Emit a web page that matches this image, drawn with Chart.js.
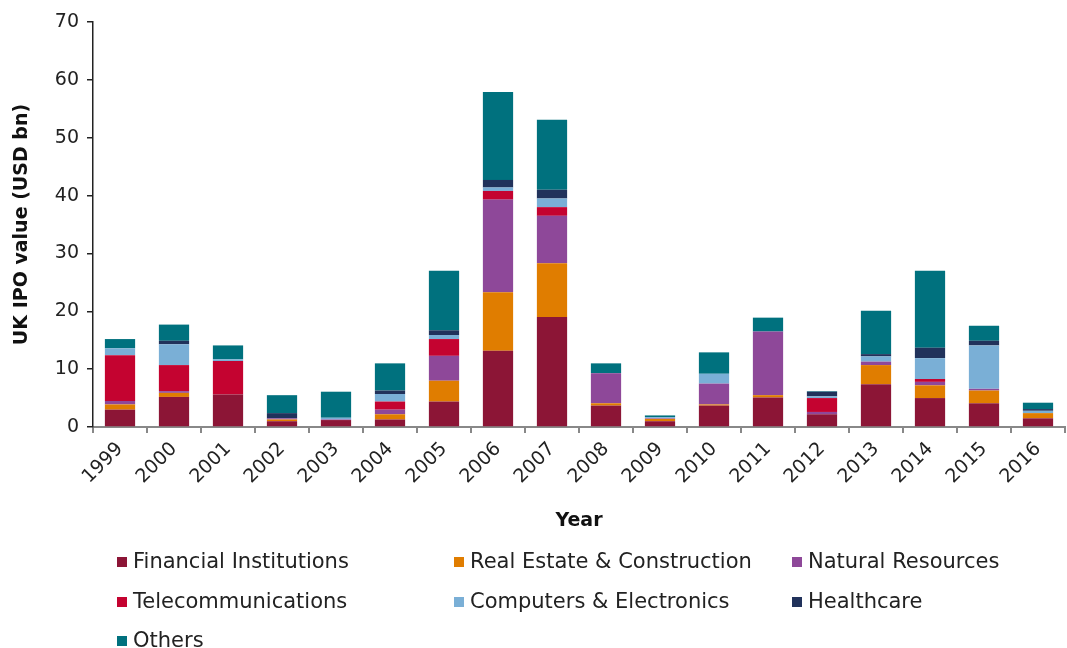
<!DOCTYPE html>
<html>
<head>
<meta charset="utf-8">
<script src="https://cdn.jsdelivr.net/npm/chart.js@4"></script>
<style>
  body { margin: 0; background: #fff; font-family: "DejaVu Sans", Verdana, sans-serif; }
  #wrap { position: relative; width: 1067px; height: 648px; }
  #legend { position: absolute; left: 0; top: 0; width: 1067px; height: 648px; pointer-events: none; }
  .item { position: absolute; font-size: 21px; color: #222; white-space: nowrap; line-height: 24px; }
  .item span.box { display: inline-block; width: 10px; height: 10px; margin-right: 6px; vertical-align: 1px; }
</style>
</head>
<body>
<div id="wrap">
  <canvas id="myChart" width="1067" height="648"></canvas>
  <div id="legend"></div>
</div>
<script>
const years = ["1999", "2000", "2001", "2002", "2003", "2004", "2005", "2006", "2007",
  "2008", "2009", "2010", "2011", "2012", "2013", "2014", "2015", "2016"];

// values in USD bn
const financial   = [3.0, 5.2, 5.6, 1.0, 1.2, 1.3, 4.4, 13.2, 19.0, 3.7, 1.0, 3.7, 5.1, 2.2, 7.4, 5.0, 4.1, 1.5];
const realEstate  = [0.9, 0.7, 0.0, 0.3, 0.0, 0.9, 3.6, 10.1, 9.3, 0.4, 0.4, 0.2, 0.4, 0.0, 3.3, 2.2, 2.2, 0.9];
const natural     = [0.6, 0.3, 0.0, 0.2, 0.1, 0.8, 4.3, 16.0, 8.2, 5.2, 0.1, 3.6, 11.0, 0.4, 0.6, 0.6, 0.3, 0.0];
const telecom     = [7.9, 4.5, 5.8, 0.0, 0.0, 1.4, 2.9, 1.5, 1.5, 0.0, 0.0, 0.0, 0.0, 2.4, 0.0, 0.5, 0.0, 0.0];
const computers   = [1.2, 3.6, 0.3, 0.0, 0.3, 1.3, 0.7, 0.6, 1.5, 0.0, 0.2, 1.7, 0.0, 0.3, 0.9, 3.6, 7.5, 0.4];
const healthcare  = [0.0, 0.6, 0.0, 0.9, 0.0, 0.6, 0.8, 1.3, 1.5, 0.0, 0.0, 0.0, 0.0, 0.8, 0.4, 1.8, 0.8, 0.3];
const others      = [1.6, 2.8, 2.4, 3.1, 4.5, 4.7, 10.3, 15.2, 12.1, 1.7, 0.3, 3.7, 2.4, 0.1, 7.5, 13.3, 2.6, 1.1];

const yTicks = [0, 10, 20, 30, 40, 50, 60, 70];

const series = [
  { label: "Financial Institutions",    data: financial,  color: "#8c1536" },
  { label: "Real Estate & Construction", data: realEstate, color: "#e07d00" },
  { label: "Natural Resources",         data: natural,    color: "#8e4899" },
  { label: "Telecommunications",        data: telecom,    color: "#c40330" },
  { label: "Computers & Electronics",   data: computers,  color: "#7aafd6" },
  { label: "Healthcare",                data: healthcare, color: "#21325b" },
  { label: "Others",                    data: others,     color: "#00717e" }
];

const font = "'DejaVu Sans', Verdana, sans-serif";
const ctx = document.getElementById("myChart");

const myChart = new Chart(ctx, {
  type: "bar",
  data: {
    labels: years,
    datasets: series.map((s) => ({
      label: s.label,
      data: s.data,
      backgroundColor: s.color,
      borderWidth: 0,
      categoryPercentage: 1,
      barPercentage: 0.56
    }))
  },
  options: {
    responsive: false,
    animation: false,
    layout: { padding: { top: 22, right: 2, bottom: 110, left: 0 } },
    plugins: { legend: { display: false }, tooltip: { enabled: false } },
    scales: {
      x: {
        stacked: true,
        grid: { display: true, drawOnChartArea: false, offset: true, tickLength: 6, color: "#888", lineWidth: 2 },
        border: { color: "#888", width: 2 },
        ticks: { color: "#222", font: { family: font, size: 19 }, minRotation: 45, maxRotation: 45, padding: 5 },
        title: { display: true, text: "Year", color: "#111", font: { family: font, size: 19, weight: "bold" }, padding: { top: 0, bottom: 6 } },
        afterFit: (scale) => { scale.height = 111; }
      },
      y: {
        stacked: true,
        min: 0,
        max: 70,
        afterBuildTicks: (scale) => { scale.ticks = yTicks.map((v) => ({ value: v })); },
        grid: { display: true, drawOnChartArea: false, tickLength: 6, color: "#222", lineWidth: 1.5 },
        border: { color: "#222", width: 1.5 },
        ticks: { color: "#222", font: { family: font, size: 19 }, padding: 8 },
        title: { display: true, text: "UK IPO value (USD bn)", color: "#111", font: { family: font, size: 19, weight: "bold" }, padding: { top: 11, bottom: 0 } },
        afterFit: (scale) => { scale.width = 93; }
      }
    }
  }
});

// legend in three columns under the chart
const legend = document.getElementById("legend");
const colX = [117, 454, 792];
const rowY = [549, 589, 628];
series.forEach((s, i) => {
  const el = document.createElement("div");
  el.className = "item";
  el.style.left = colX[i % 3] + "px";
  el.style.top = rowY[Math.floor(i / 3)] + "px";
  el.innerHTML = '<span class="box" style="background:' + s.color + '"></span>' + s.label;
  legend.appendChild(el);
});
</script>
</body>
</html>
